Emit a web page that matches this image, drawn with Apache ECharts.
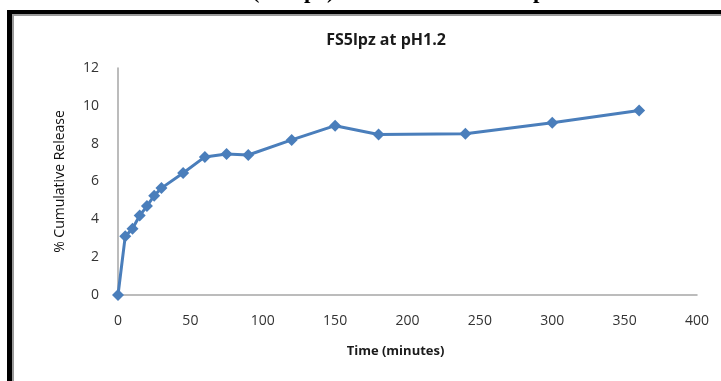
<!DOCTYPE html>
<html>
<head>
<meta charset="utf-8">
<style>
  html, body { margin: 0; padding: 0; background: #ffffff; }
  #chart { width: 721px; height: 381px; }
</style>
<script src="https://cdn.jsdelivr.net/npm/echarts@6/dist/echarts.min.js"></script>
</head>
<body>
<div id="chart"></div>
<script>
// Sampling times (minutes) and cumulative release (%)
const timeMinutes = [0, 5, 10, 15, 20, 25, 30, 45, 60, 75, 90, 120, 150, 180, 240, 300, 360];
const releasePct  = [0, 3.1, 3.5, 4.2, 4.7, 5.25, 5.65, 6.45, 7.3, 7.45, 7.4, 8.2, 8.95, 8.48, 8.52, 9.1, 9.75];

const chartTitle = 'FS5lpz at pH1.2';
const xAxisName = 'Time (minutes)';
const yAxisName = '% Cumulative Release';
const headingText = 'Formulation (FS5lpz) with best release at pH 1.2';

const chart = echarts.init(document.getElementById('chart'), null, { renderer: 'canvas' });

const labelFont = '"Open Sans", "Liberation Sans", sans-serif';

chart.setOption({
  animation: false,
  backgroundColor: '#ffffff',
  title: {
    text: chartTitle,
    left: 381,
    top: 27,
    textAlign: 'center',
    textStyle: { fontFamily: labelFont, fontSize: 16, fontWeight: 'bold', color: '#1a1a1a' }
  },
  grid: { left: 118, right: 24, top: 68, bottom: 86 },
  xAxis: {
    type: 'value',
    min: 0, max: 400, interval: 50,
    name: xAxisName,
    nameLocation: 'middle',
    nameGap: 50,
    nameTextStyle: {
      fontFamily: labelFont, fontSize: 13, fontWeight: 'bold', color: '#1a1a1a',
      padding: [0, 24, 0, 0]
    },
    axisLine: { show: true, lineStyle: { color: '#a6a6a6', width: 1.5 } },
    axisTick: { show: false },
    splitLine: { show: false },
    axisLabel: { margin: 19, fontFamily: labelFont, fontSize: 14, color: '#333333' }
  },
  yAxis: {
    type: 'value',
    min: 0, max: 12, interval: 2,
    name: yAxisName,
    nameLocation: 'middle',
    nameGap: 51,
    nameTextStyle: { fontFamily: labelFont, fontSize: 14, fontWeight: 'normal', color: '#111111' },
    axisLine: { show: true, lineStyle: { color: '#a6a6a6', width: 1.5 } },
    axisTick: { show: false },
    splitLine: { show: false },
    axisLabel: { margin: 19, fontFamily: labelFont, fontSize: 14, color: '#333333' }
  },
  series: [{
    type: 'line',
    data: timeMinutes.map((t, i) => [t, releasePct[i]]),
    symbol: 'diamond',
    symbolSize: 12,
    showAllSymbol: true,
    lineStyle: { color: '#4a7ebb', width: 3 },
    itemStyle: { color: '#4a7ebb' }
  }],
  graphic: [
    // page heading above the chart frame (mostly clipped by the top edge)
    {
      type: 'text',
      left: 122, top: -19,
      style: {
        text: headingText,
        font: 'bold 23px "Liberation Serif", "DejaVu Serif", serif',
        fill: '#000000'
      }
    },
    // frame around the chart
    { type: 'rect', shape: { x: 7, y: 10, width: 5, height: 380 }, style: { fill: '#000000' } },
    { type: 'rect', shape: { x: 7, y: 10, width: 720, height: 4 }, style: { fill: '#000000' } },
    { type: 'rect', shape: { x: 12, y: 14, width: 2, height: 380 }, style: { fill: '#9a9a9a' } },
    { type: 'rect', shape: { x: 12, y: 14, width: 710, height: 2 }, style: { fill: '#9a9a9a' } }
  ]
});
</script>
</body>
</html>
